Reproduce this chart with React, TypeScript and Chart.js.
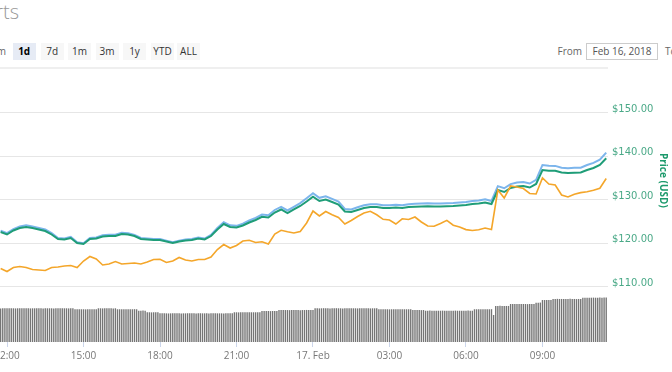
import React, { useEffect, useRef } from "react";
import { Chart, registerables } from "chart.js";

Chart.register(...registerables);

// Time grid: hours counted from 16 Feb 2018 00:00
const START_HOUR = 11.75;
const STEP_HOURS = 0.25; // 15-minute samples for the lines
const VOL_STEP_HOURS = 1 / 12; // 5-minute samples for the volume bars
const X_MIN = 11.725;
const X_MAX = 35.57;

const TICK_HOURS = [12, 15, 18, 21, 24, 27, 30, 33];
const TICK_LABELS = ["12:00", "15:00", "18:00", "21:00", "17. Feb", "03:00", "06:00", "09:00"];
const PRICE_TICKS = [110, 120, 130, 140, 150];
const ZOOM_BUTTONS = ["1d", "7d", "1m", "3m", "1y", "YTD", "ALL"];
const SELECTED_BUTTON = "1d";

const priceUsd = [
  122.64, 122.07, 122.99, 123.56, 123.79, 123.56, 123.22, 122.87, 122.07, 121.03,
  120.92, 121.26, 120.11, 119.89, 121.03, 121.15, 121.61, 121.72, 121.72, 122.18,
  122.07, 121.72, 121.03, 120.92, 120.8, 120.8, 120.46, 120.11, 120.46, 120.69,
  120.8, 121.15, 120.92, 121.72, 123.22, 124.48, 123.79, 123.68, 124.14, 124.83,
  125.4, 126.14, 125.98, 127.13, 127.82, 127.01, 127.82, 128.62, 129.66, 130.76,
  129.77, 130.11, 129.54, 128.97, 127.36, 127.24, 127.7, 128.16, 128.39, 128.39,
  128.16, 128.16, 128.28, 128.16, 128.39, 128.46, 128.51, 128.57, 128.51, 128.51,
  128.57, 128.62, 128.74, 128.85, 129.08, 129.2, 129.43, 129.08, 132.3, 131.84,
  132.76, 133.1, 133.22, 132.87, 133.68, 136.9, 136.74, 136.71, 136.32, 136.21,
  136.28, 136.32, 136.9, 137.36, 138.05, 139.6,
];

// Market cap, billions USD
const marketCapB = [
  7.972, 7.935, 7.994, 8.031, 8.046, 8.031, 8.009, 7.987, 7.935, 7.867,
  7.86, 7.882, 7.807, 7.793, 7.867, 7.875, 7.905, 7.912, 7.912, 7.942,
  7.935, 7.912, 7.867, 7.86, 7.852, 7.852, 7.83, 7.807, 7.83, 7.845,
  7.852, 7.875, 7.86, 7.912, 8.009, 8.091, 8.046, 8.039, 8.069, 8.114,
  8.151, 8.199, 8.189, 8.263, 8.308, 8.256, 8.308, 8.36, 8.428, 8.499,
  8.435, 8.457, 8.42, 8.383, 8.278, 8.271, 8.301, 8.33, 8.345, 8.345,
  8.33, 8.33, 8.338, 8.33, 8.345, 8.35, 8.353, 8.357, 8.353, 8.353,
  8.357, 8.36, 8.368, 8.375, 8.39, 8.398, 8.413, 8.39, 8.6, 8.57,
  8.629, 8.652, 8.659, 8.637, 8.689, 8.899, 8.888, 8.886, 8.861, 8.854,
  8.858, 8.861, 8.899, 8.928, 8.973, 9.074,
];

const priceBtc = [
  0.011535, 0.011505, 0.011545, 0.011555, 0.011545, 0.011525, 0.01152, 0.011515, 0.011545, 0.01155,
  0.01156, 0.011565, 0.011545, 0.01161, 0.011655, 0.01163, 0.01157, 0.01158, 0.011605, 0.01158,
  0.011585, 0.01159, 0.01158, 0.0116, 0.011625, 0.011627, 0.011595, 0.01161, 0.011645, 0.01162,
  0.01161, 0.011625, 0.011625, 0.01165, 0.011725, 0.011775, 0.01174, 0.011765, 0.01181, 0.011817,
  0.011795, 0.011803, 0.01178, 0.01188, 0.011917, 0.011902, 0.01189, 0.011905, 0.01199, 0.01211,
  0.01206, 0.012105, 0.012073, 0.012045, 0.01198, 0.012015, 0.012055, 0.01209, 0.012107, 0.012072,
  0.012027, 0.01202, 0.01198, 0.012032, 0.012025, 0.01205, 0.012, 0.01196, 0.011957, 0.011985,
  0.012016, 0.011968, 0.01195, 0.011924, 0.011915, 0.011922, 0.01194, 0.011925, 0.01232, 0.01224,
  0.01236, 0.01235, 0.012335, 0.012285, 0.01228, 0.01244, 0.01238, 0.01237, 0.01227, 0.01225,
  0.012278, 0.012294, 0.012302, 0.012317, 0.012337, 0.012435,
];

// 24h volume, millions USD (one row per hour, 5-minute samples)
const volumeM = [
  346, 347, 347, 348, 347, 347, 347, 346, 347, 347, 348, 347,
  347, 347, 346, 347, 347, 348, 347, 347, 346, 347, 347, 347,
  347, 346, 347, 347, 348, 347, 347, 347, 346, 347, 347, 337,
  337, 338, 337, 337, 336, 337, 337, 338, 337, 337, 347, 347,
  346, 347, 347, 348, 347, 346, 347, 337, 337, 338, 337, 337,
  336, 337, 337, 338, 337, 322, 322, 323, 322, 306, 306, 305,
  306, 306, 307, 295, 295, 296, 295, 294, 295, 295, 296, 295,
  295, 294, 295, 295, 296, 295, 295, 295, 294, 295, 296, 295,
  295, 295, 294, 295, 295, 296, 295, 295, 295, 294, 295, 296,
  295, 295, 306, 306, 305, 306, 307, 306, 306, 305, 306, 306,
  306, 307, 306, 319, 319, 320, 319, 318, 319, 319, 320, 329,
  329, 330, 329, 329, 328, 329, 330, 329, 329, 328, 329, 329,
  330, 329, 329, 329, 347, 347, 346, 347, 348, 347, 347, 346,
  347, 347, 348, 347, 347, 346, 347, 347, 347, 348, 347, 347,
  346, 347, 347, 348, 347, 347, 346, 347, 347, 347, 337, 337,
  338, 337, 337, 336, 337, 337, 338, 337, 337, 336, 337, 337,
  337, 338, 329, 329, 330, 329, 328, 329, 322, 322, 323, 322,
  322, 321, 322, 322, 323, 322, 322, 321, 322, 322, 323, 322,
  322, 322, 321, 322, 323, 322, 322, 337, 337, 338, 337, 337,
  336, 337, 337, 338, 278, 371, 371, 372, 371, 370, 371, 371,
  391, 391, 390, 391, 392, 391, 391, 391, 390, 391, 391, 392,
  405, 405, 406, 432, 432, 433, 432, 432, 443, 443, 444, 443,
  443, 442, 443, 443, 444, 443, 443, 442, 443, 443, 456, 456,
  455, 456, 456, 457, 456, 456, 457, 456, 457, 458,
];

const UI_FONT = '"Open Sans", sans-serif';

export default function App() {
  const canvasRef = useRef<HTMLCanvasElement>(null);

  useEffect(() => {
    const lineTimes = priceUsd.map((_, i) => START_HOUR + i * STEP_HOURS);
    const toPoints = (arr: number[]) => arr.map((v, i) => ({ x: lineTimes[i], y: v }));
    const volPoints = volumeM.map((v, i) => ({ x: START_HOUR + i * VOL_STEP_HOURS, y: v }));

    const chart = new Chart(canvasRef.current as HTMLCanvasElement, {
      type: "line",
      data: {
        datasets: [
          {
            label: "Price (BTC)",
            data: toPoints(priceBtc),
            yAxisID: "yBtc",
            borderColor: "#f4a62a",
            borderWidth: 1.6,
            pointRadius: 0,
            tension: 0,
            order: 0,
          },
          {
            label: "Price (USD)",
            data: toPoints(priceUsd),
            yAxisID: "y",
            borderColor: "#1f9d78",
            borderWidth: 2,
            pointRadius: 0,
            tension: 0,
            order: 1,
          },
          {
            label: "Market Cap",
            data: toPoints(marketCapB),
            yAxisID: "yCap",
            borderColor: "#7cb5ec",
            borderWidth: 2,
            pointRadius: 0,
            tension: 0,
            order: 2,
          },
          {
            type: "bar",
            label: "24h Vol",
            data: volPoints,
            yAxisID: "yVol",
            backgroundColor: "#757575",
            borderWidth: 0,
            barPercentage: 0.65,
            categoryPercentage: 1,
            order: 3,
          } as any,
        ],
      },
      options: {
        responsive: false,
        animation: false,
        devicePixelRatio: 1,
        layout: { padding: { top: 70, left: 0, right: 0, bottom: 0 } },
        plugins: { legend: { display: false }, tooltip: { enabled: false } },
        scales: {
          x: {
            type: "linear",
            min: X_MIN,
            max: X_MAX,
            offset: false,
            afterBuildTicks: (s: any) => {
              s.ticks = TICK_HOURS.map((v) => ({ value: v }));
            },
            afterFit: (s: any) => {
              s.height = 30;
              s.paddingLeft = 0;
              s.paddingRight = 0;
            },
            grid: { drawOnChartArea: false, drawTicks: true, tickLength: 5, color: "#ccd6eb", offset: false },
            border: { display: false },
            ticks: {
              autoSkip: false,
              maxRotation: 0,
              padding: 3,
              color: "#777",
              font: { family: UI_FONT, size: 10 },
              callback: (_v: any, i: number) => TICK_LABELS[i],
            },
          },
          y: {
            type: "linear",
            position: "right",
            min: 97.356,
            max: 159.885,
            afterBuildTicks: (s: any) => {
              s.ticks = PRICE_TICKS.map((v) => ({ value: v }));
            },
            afterFit: (s: any) => {
              s.width = 64;
            },
            grid: { color: "#e6e6e6", drawTicks: false },
            border: { display: false },
            ticks: {
              padding: 4,
              labelOffset: -4,
              color: "#4aa987",
              font: { family: '"DejaVu Sans", sans-serif', size: 10 },
              callback: (v: any) => "$" + Number(v).toFixed(2),
            },
          },
          yCap: { type: "linear", display: false, min: 6.3975, max: 10.2409 },
          yBtc: { type: "linear", display: false, min: 0.0108, max: 0.01352 },
          yVol: { type: "linear", display: false, min: 0, max: 2800 },
        },
      } as any,
    });
    return () => chart.destroy();
  }, []);

  const btnLefts = [12.7, 40.7, 68, 95.5, 123, 151, 177];

  return (
    <div
      style={{
        position: "fixed",
        left: 0,
        top: 0,
        width: 672,
        height: 372,
        overflow: "hidden",
        background: "#fff",
        fontFamily: UI_FONT,
      }}
    >
      <div
        style={{
          position: "absolute",
          right: 672 - 19,
          top: 0,
          fontSize: 20,
          lineHeight: "24px",
          color: "#999",
          fontWeight: 300,
          whiteSpace: "nowrap",
        }}
      >
        Charts
      </div>
      <div
        style={{
          position: "absolute",
          right: 672 - 6,
          top: 43,
          fontSize: 10,
          lineHeight: "17px",
          color: "#666",
          whiteSpace: "nowrap",
        }}
      >
        Zoom
      </div>
      {ZOOM_BUTTONS.map((b, i) => (
        <div
          key={b}
          style={{
            position: "absolute",
            left: btnLefts[i],
            top: 43,
            width: 23,
            height: 17,
            lineHeight: "17px",
            textAlign: "center",
            fontSize: 10,
            background: b === SELECTED_BUTTON ? "#e6ebf5" : "#f7f7f7",
            color: b === SELECTED_BUTTON ? "#000" : "#333",
            fontWeight: b === SELECTED_BUTTON ? 700 : 400,
          }}
        >
          {b}
        </div>
      ))}
      <div
        style={{
          position: "absolute",
          right: 672 - 582,
          top: 43,
          fontSize: 10,
          lineHeight: "17px",
          color: "#666",
        }}
      >
        From
      </div>
      <div
        style={{
          position: "absolute",
          left: 586,
          top: 43,
          width: 70,
          height: 15,
          border: "1px solid #ccc",
          fontSize: 10,
          lineHeight: "15px",
          textAlign: "center",
          color: "#555",
          whiteSpace: "nowrap",
        }}
      >
        Feb 16, 2018
      </div>
      <div
        style={{
          position: "absolute",
          left: 665,
          top: 43,
          fontSize: 10,
          lineHeight: "17px",
          color: "#666",
        }}
      >
        To
      </div>
      <div
        style={{
          position: "absolute",
          left: 0,
          top: 67,
          width: 608,
          height: 2,
          background: "#efefef",
        }}
      />
      <canvas
        ref={canvasRef}
        width={672}
        height={372}
        style={{ position: "absolute", left: 0, top: 0, width: 672, height: 372 }}
      />
      <div
        style={{
          position: "absolute",
          left: 658,
          top: 153,
          writingMode: "vertical-rl",
          fontSize: 10,
          lineHeight: "12px",
          fontWeight: 700,
          color: "#1d9a6c",
          whiteSpace: "nowrap",
        }}
      >
        Price (USD)
      </div>
    </div>
  );
}
